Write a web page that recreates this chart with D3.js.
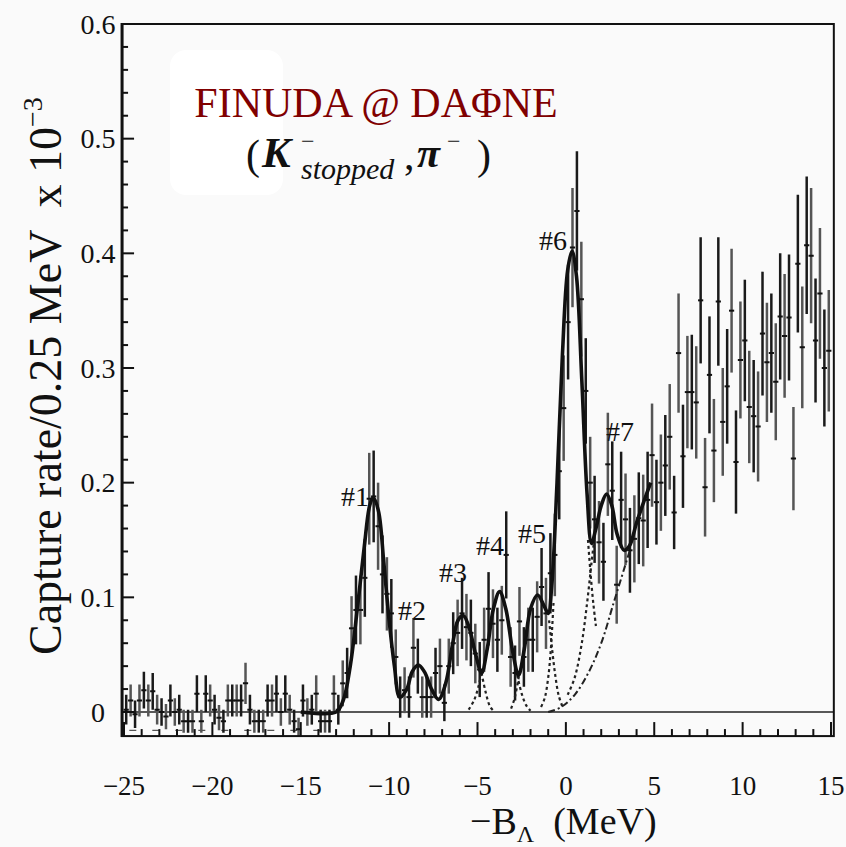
<!DOCTYPE html>
<html>
<head>
<meta charset="utf-8">
<script src="https://cdn.jsdelivr.net/npm/d3@7"></script>
<style>
  body { margin: 0; background: #fafafa; }
  svg { display: block; }
  text { font-family: "Liberation Serif", "Times New Roman", serif; fill: #111; }
</style>
</head>
<body>
<svg id="chart" width="846" height="847"></svg>
<script>
// histogram: 0.25 MeV bins starting at -25 MeV
const binLow = -25;
const binWidth = 0.25;

// capture rate per bin (x 10^-3)
const rates = [
  0.002, 0.010, -0.002, 0.010, 0.019, 0.010, 0.018, 0.002, 0.000, -0.004,
  0.010, 0.000, 0.002, -0.008, -0.008, -0.008, 0.016, -0.008, 0.016, 0.010,
  0.002, -0.005, -0.008, 0.010, 0.010, 0.010, 0.010, 0.025, 0.002, -0.008,
  -0.008, -0.008, 0.010, 0.010, 0.016, 0.000, 0.016, 0.002, -0.008, -0.015,
  0.010, 0.000, 0.002, 0.016, -0.008, -0.008, -0.008, 0.016, 0.002, 0.025,
  0.034, 0.073, 0.089, 0.089, 0.117, 0.186, 0.188, 0.162, 0.120, 0.103,
  0.086, 0.048, 0.013, 0.019, 0.013, 0.056, 0.040, 0.013, 0.013, 0.013,
  0.034, 0.040, 0.008, 0.040, 0.060, 0.069, 0.086, 0.074, 0.069, 0.051,
  0.037, 0.063, 0.090, 0.077, 0.063, 0.080, 0.137, 0.048, 0.034, 0.079,
  0.048, 0.063, 0.063, 0.083, 0.109, 0.086, 0.121, 0.137, 0.210, 0.265,
  0.340, 0.405, 0.437, 0.360, 0.280, 0.200, 0.168, 0.148, 0.131, 0.216,
  0.193, 0.111, 0.185, 0.168, 0.141, 0.151, 0.169, 0.167, 0.185, 0.224,
  0.183, 0.200, 0.215, 0.240, 0.174, 0.313, 0.223, 0.279, 0.279, 0.270,
  0.359, 0.196, 0.294, 0.228, 0.358, 0.253, 0.284, 0.350, 0.218, 0.307,
  0.324, 0.266, 0.258, 0.249, 0.330, 0.305, 0.313, 0.288, 0.345, 0.328,
  0.344, 0.221, 0.391, 0.318, 0.407, 0.398, 0.324, 0.365, 0.300, 0.315
];

// half length of each error bar
const rateErrs = [
  0.013, 0.014, 0.012, 0.014, 0.016, 0.014, 0.016, 0.013, 0.012, 0.011,
  0.014, 0.012, 0.013, 0.010, 0.010, 0.010, 0.016, 0.010, 0.016, 0.014,
  0.013, 0.011, 0.010, 0.014, 0.014, 0.014, 0.014, 0.018, 0.013, 0.010,
  0.010, 0.010, 0.014, 0.014, 0.016, 0.012, 0.016, 0.013, 0.010, 0.010,
  0.014, 0.012, 0.013, 0.016, 0.010, 0.010, 0.010, 0.016, 0.013, 0.020,
  0.022, 0.028, 0.030, 0.030, 0.034, 0.040, 0.040, 0.038, 0.034, 0.032,
  0.030, 0.024, 0.018, 0.020, 0.018, 0.026, 0.024, 0.018, 0.018, 0.018,
  0.022, 0.024, 0.016, 0.024, 0.027, 0.029, 0.031, 0.029, 0.029, 0.026,
  0.024, 0.028, 0.032, 0.030, 0.028, 0.030, 0.038, 0.026, 0.024, 0.030,
  0.026, 0.028, 0.028, 0.031, 0.034, 0.031, 0.035, 0.036, 0.042, 0.046,
  0.050, 0.052, 0.052, 0.050, 0.046, 0.040, 0.038, 0.036, 0.034, 0.045,
  0.043, 0.034, 0.042, 0.040, 0.037, 0.038, 0.040, 0.040, 0.042, 0.045,
  0.037, 0.042, 0.044, 0.046, 0.032, 0.052, 0.045, 0.049, 0.050, 0.049,
  0.055, 0.043, 0.051, 0.045, 0.056, 0.047, 0.050, 0.054, 0.045, 0.051,
  0.053, 0.049, 0.049, 0.048, 0.054, 0.052, 0.052, 0.051, 0.055, 0.054,
  0.055, 0.045, 0.060, 0.053, 0.060, 0.059, 0.054, 0.057, 0.051, 0.053
];

// total fit (solid), [MeV, rate]
const fitCurve = [
  [-15.0, 0.0], [-13.0, 0.0], [-12.6, 0.01], [-12.2, 0.04], [-11.8, 0.09], [-11.4, 0.145],
  [-11.1, 0.18], [-10.9, 0.187], [-10.6, 0.175], [-10.3, 0.13], [-10.0, 0.08], [-9.7, 0.04],
  [-9.4, 0.013], [-9.0, 0.02], [-8.7, 0.035], [-8.35, 0.041], [-8.0, 0.035], [-7.6, 0.02],
  [-7.2, 0.011], [-6.8, 0.025], [-6.4, 0.06], [-6.1, 0.08], [-5.8, 0.084], [-5.5, 0.075],
  [-5.1, 0.05], [-4.77, 0.034], [-4.45, 0.055], [-4.1, 0.09], [-3.75, 0.105], [-3.4, 0.09],
  [-3.0, 0.052], [-2.68, 0.032], [-2.35, 0.055], [-2.0, 0.09], [-1.6, 0.102], [-1.25, 0.093],
  [-1.0, 0.086], [-0.8, 0.11], [-0.5, 0.2], [-0.2, 0.31], [0.1, 0.385], [0.35, 0.402],
  [0.6, 0.38], [0.9, 0.29], [1.2, 0.19], [1.45, 0.147], [1.7, 0.16], [2.0, 0.18],
  [2.3, 0.19], [2.6, 0.18], [2.9, 0.155], [3.3, 0.141], [3.6, 0.145], [4.0, 0.165],
  [4.4, 0.183], [4.8, 0.2]
];

// single-peak tails (dotted)
const peakTails = [
  [[-5.5, 0.002], [-5.2, 0.01], [-4.95, 0.022], [-4.75, 0.036]],
  [[-4.77, 0.034], [-4.55, 0.018], [-4.3, 0.005], [-4.1, 0.001]],
  [[-3.1, 0.003], [-2.9, 0.012], [-2.65, 0.032]],
  [[-2.75, 0.032], [-2.5, 0.016], [-2.25, 0.006], [-2.0, 0.001]],
  [[-0.95, 0.08], [-0.78, 0.055], [-0.6, 0.032], [-0.4, 0.014], [-0.15, 0.003]],
  [[-0.7, 0.095], [-0.85, 0.055], [-1.0, 0.03], [-1.2, 0.012], [-1.45, 0.003]],
  [[1.25, 0.15], [1.4, 0.12], [1.55, 0.095], [1.7, 0.075]],
  [[0.1, 0.015], [0.5, 0.03], [0.9, 0.06], [1.2, 0.095], [1.45, 0.13], [1.6, 0.15]]
];

// background (dash-dot)
const bgCurve = [
  [-1.0, 0.0], [-0.3, 0.004], [0.5, 0.015], [1.3, 0.035], [2.0, 0.06],
  [2.7, 0.095], [3.3, 0.125], [3.6, 0.14]
];
const lowTrace = [[-24.7, -0.016], [-13.2, -0.016]];

// peak labels and their anchors [MeV, rate]
const peakNames = ["#1", "#2", "#3", "#4", "#5", "#6", "#7"];
const peakAnchors = [[-11.93, 0.18], [-8.71, 0.08], [-6.39, 0.113], [-4.29, 0.137],
                     [-1.92, 0.147], [-0.73, 0.403], [3.06, 0.236]];

const xMajor = [-25, -20, -15, -10, -5, 0, 5, 10, 15];
const xMinor = d3.range(-25, 15.5, 1);
const yMajor = [0, 0.1, 0.2, 0.3, 0.4, 0.5, 0.6];
const yMinor = d3.range(0, 0.61, 0.02);
const yTickText = ["0", "0.1", "0.2", "0.3", "0.4", "0.5", "0.6"];

const svg = d3.select("#chart");
const x = d3.scaleLinear().domain([-25, 15]).range([124, 831]);
const y = d3.scaleLinear().domain([0, 0.6]).range([712, 24]);

const frameL = x(-25.11), frameR = x(15.16), frameT = y(0.6), frameB = y(-0.021);

svg.append("rect").attr("width", 846).attr("height", 847).attr("fill", "#fafafa");

// white box behind the title
svg.append("rect")
  .attr("x", 170).attr("y", 50).attr("width", 113).attr("height", 145)
  .attr("rx", 16).attr("fill", "#ffffff");

svg.append("clipPath").attr("id", "plotClip")
  .append("rect").attr("x", frameL).attr("y", frameT)
  .attr("width", frameR - frameL).attr("height", frameB - frameT);

const plot = svg.append("g").attr("clip-path", "url(#plotClip)");

// zero line
plot.append("line")
  .attr("x1", frameL).attr("x2", frameR).attr("y1", y(0)).attr("y2", y(0))
  .attr("stroke", "#222").attr("stroke-width", 1.6);

const line = d3.line().x(d => x(d[0])).y(d => y(d[1])).curve(d3.curveCatmullRom.alpha(0.5));

plot.append("path").datum(lowTrace).attr("d", line)
  .attr("fill", "none").attr("stroke", "#555").attr("stroke-width", 1.3)
  .attr("stroke-dasharray", "7,16");

// error bars
const bins = rates.map((v, i) => ({ c: binLow + binWidth * (i + 0.5), v: v, e: rateErrs[i], i: i }));
plot.selectAll(".bar").data(bins).join("line")
  .attr("class", "bar")
  .attr("x1", d => x(d.c)).attr("x2", d => x(d.c))
  .attr("y1", d => y(d.v - d.e)).attr("y2", d => y(d.v + d.e))
  .attr("stroke", d => d.i % 2 ? "#555" : "#1a1a1a")
  .attr("stroke-width", 2.5);
plot.selectAll(".mark").data(bins).join("line")
  .attr("class", "mark")
  .attr("x1", d => x(d.c) - 2.6).attr("x2", d => x(d.c) + 2.6)
  .attr("y1", d => y(d.v)).attr("y2", d => y(d.v))
  .attr("stroke", "#111").attr("stroke-width", 2);

// component curves
plot.selectAll(".tail").data(peakTails).join("path")
  .attr("class", "tail").attr("d", line)
  .attr("fill", "none").attr("stroke", "#222").attr("stroke-width", 2.2)
  .attr("stroke-dasharray", "3,3");

plot.append("path").datum(bgCurve).attr("d", line)
  .attr("fill", "none").attr("stroke", "#222").attr("stroke-width", 2)
  .attr("stroke-dasharray", "7,3,2,3");

plot.append("path").datum(fitCurve).attr("d", line)
  .attr("fill", "none").attr("stroke", "#111").attr("stroke-width", 3.6)
  .attr("stroke-linejoin", "round");

// frame
svg.append("rect")
  .attr("x", frameL).attr("y", frameT).attr("width", frameR - frameL).attr("height", frameB - frameT)
  .attr("fill", "none").attr("stroke", "#111").attr("stroke-width", 2);
svg.append("line")
  .attr("x1", frameL).attr("x2", frameL).attr("y1", frameT - 1).attr("y2", frameB + 1)
  .attr("stroke", "#111").attr("stroke-width", 3);

// ticks
svg.selectAll(".ytick").data(yMinor).join("line")
  .attr("x1", frameL).attr("x2", d => frameL + (yMajor.some(m => Math.abs(m - d) < 1e-6) ? 12 : 6))
  .attr("y1", d => y(d)).attr("y2", d => y(d))
  .attr("stroke", "#111").attr("stroke-width", 2);
svg.selectAll(".xtick").data(xMinor).join("line")
  .attr("x1", d => x(d)).attr("x2", d => x(d))
  .attr("y1", frameB).attr("y2", d => frameB - (d % 5 === 0 ? 14 : 7))
  .attr("stroke", "#111").attr("stroke-width", 2);

svg.selectAll(".ylab").data(yMajor).join("text")
  .attr("x", 98).attr("y", d => y(d) + 9.5)
  .attr("text-anchor", "middle").attr("font-size", 28)
  .text((d, i) => yTickText[i]);
svg.selectAll(".xlab").data(xMajor).join("text")
  .attr("x", d => x(d)).attr("y", 795)
  .attr("text-anchor", "middle").attr("font-size", 27)
  .text(d => d < 0 ? "\u2212" + Math.abs(d) : String(d));

// axis titles
const xt = svg.append("text").attr("x", 470).attr("y", 834).attr("font-size", 38)
  .style("white-space", "pre");
xt.append("tspan").text("\u2212B");
xt.append("tspan").attr("font-size", 24).attr("dy", 8).text("\u039B");
xt.append("tspan").attr("dy", -8).text("  (MeV)");

const yt = svg.append("text").attr("transform", "translate(61,655) rotate(-90)")
  .attr("font-size", 46).style("white-space", "pre");
yt.append("tspan").text("Capture rate/0.25 MeV  x 10");
yt.append("tspan").attr("font-size", 28).attr("dy", -19).text("\u22123");

// peak labels
svg.selectAll(".pk").data(peakNames).join("text")
  .attr("x", (d, i) => x(peakAnchors[i][0])).attr("y", (d, i) => y(peakAnchors[i][1]))
  .attr("text-anchor", "middle").attr("font-size", 28)
  .text(d => d);

// title
svg.append("text").attr("x", 376).attr("y", 117).attr("text-anchor", "middle")
  .attr("font-size", 42).style("fill", "#800000").text("FINUDA @ DA\u03A6NE");

svg.append("text").attr("x", 246).attr("y", 169).attr("font-size", 42).text("(");
svg.append("text").attr("x", 262).attr("y", 167).attr("font-size", 43)
  .attr("font-style", "italic").attr("font-weight", "bold").text("K");
svg.append("text").attr("x", 301).attr("y", 149).attr("font-size", 24).text("\u2212");
svg.append("text").attr("x", 301).attr("y", 179).attr("font-size", 30)
  .attr("font-style", "italic").text("stopped");
svg.append("text").attr("x", 404).attr("y", 169).attr("font-size", 42).text(",");
svg.append("text").attr("x", 417).attr("y", 167).attr("font-size", 42)
  .attr("font-style", "italic").attr("font-weight", "bold").text("\u03C0");
svg.append("text").attr("x", 447).attr("y", 149).attr("font-size", 24).text("\u2212");
svg.append("text").attr("x", 477).attr("y", 169).attr("font-size", 42).text(")");
</script>
</body>
</html>
